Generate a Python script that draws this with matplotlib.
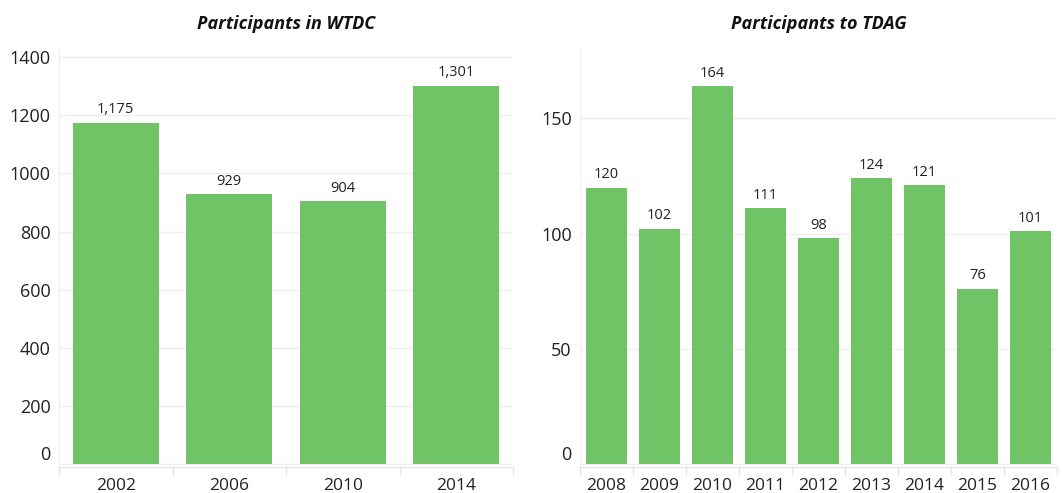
import matplotlib.pyplot as plt
from matplotlib.ticker import FixedLocator

wtdc_years = ["2002", "2006", "2010", "2014"]
wtdc_values = [1175, 929, 904, 1301]
tdag_years = ["2008", "2009", "2010", "2011", "2012", "2013", "2014", "2015", "2016"]
tdag_values = [120, 102, 164, 111, 98, 124, 121, 76, 101]
wtdc_yticks = [0, 200, 400, 600, 800, 1000, 1200, 1400]
tdag_yticks = [0, 50, 100, 150]

plt.rcParams['font.family'] = ['Open Sans', 'DejaVu Sans']
BAR = '#71C466'
GRID = '#EFEFEF'
SPINE = '#E3E3E3'

fig = plt.figure(figsize=(10.62, 4.93), dpi=100)
ax1 = fig.add_axes([59/1062, 1-467/493, 454/1062, 420/493])
ax2 = fig.add_axes([580/1062, 1-467/493, 477/1062, 420/493])


def style(ax, cats, vals, yticks, ylim, fmt, title, tw):
    x = list(range(len(cats)))
    ax.bar(x, vals, width=tw, color=BAR, zorder=2)
    ax.set_xlim(-0.5, len(cats) - 0.5)
    ax.set_ylim(*ylim)
    ax.set_yticks(yticks)
    ax.set_yticklabels([str(t) for t in yticks], fontsize=13, color='#222222')
    ax.get_yticklabels()[0].set_va('bottom')
    ax.set_xticks(x)
    ax.set_xticklabels(cats, fontsize=12.5, color='#222222')
    ax.tick_params(axis='x', length=0, pad=8)
    ax.tick_params(axis='y', length=0, pad=6)
    ax.xaxis.set_minor_locator(FixedLocator([i - 0.5 for i in range(len(cats) + 1)]))
    ax.tick_params(axis='x', which='minor', length=6, color=SPINE, width=1)
    ax.grid(axis='y', color=GRID, linewidth=1, zorder=0)
    for s in ['top', 'right']:
        ax.spines[s].set_visible(False)
    ax.spines['left'].set_color(GRID)
    ax.spines['bottom'].set_color(SPINE)
    for xi, v in zip(x, vals):
        ax.annotate(fmt(v), (xi, v), xytext=(0, 4), textcoords='offset points',
                    ha='center', va='bottom', fontsize=10.5, color='#222222')
    ax.set_title(title, fontsize=13, fontweight='bold', style='italic', pad=13, color='#111111')
    ax.set_facecolor('white')


style(ax1, wtdc_years, wtdc_values, wtdc_yticks, (-10, 1435), lambda v: f"{v:,}",
      "Participants in WTDC", 0.76)
style(ax2, tdag_years, tdag_values, tdag_yticks, (-1.3, 181), lambda v: f"{v}",
      "Participants to TDAG", 0.77)

fig.savefig('out.png', dpi=100, facecolor='white')
